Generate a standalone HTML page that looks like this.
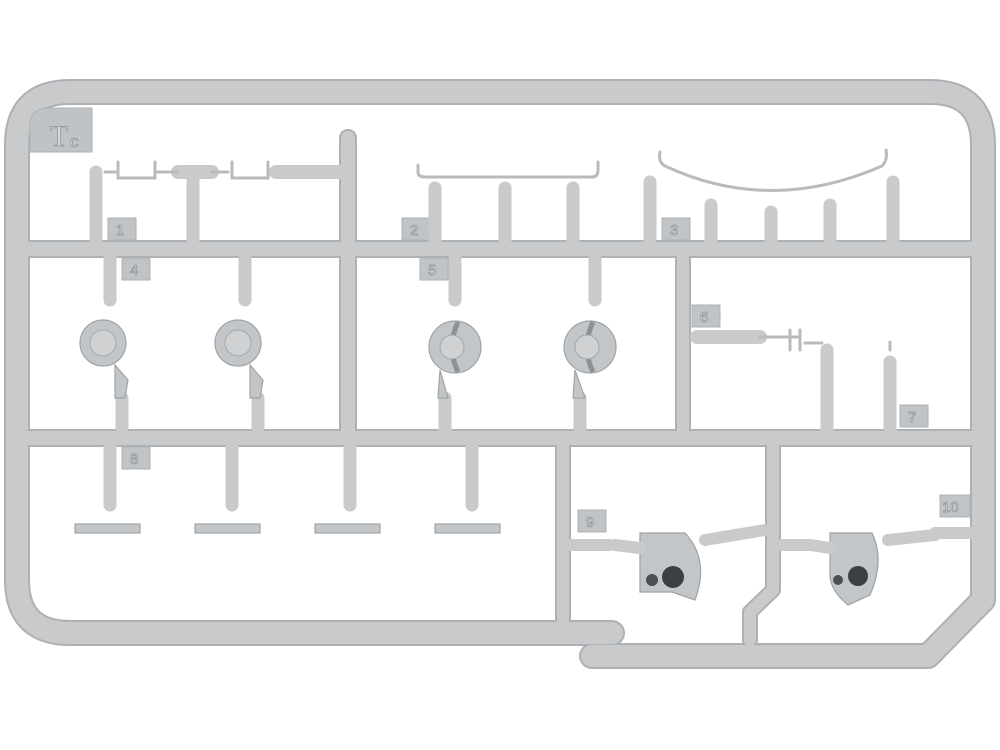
<!DOCTYPE html>
<html><head><meta charset="utf-8"><style>
html,body{margin:0;padding:0;background:#fff;width:1000px;height:750px;overflow:hidden}
svg{display:block}
.r{stroke:#c8cacc;fill:none;stroke-linecap:round;stroke-linejoin:round}
.e{stroke:#aeb1b4;fill:none;stroke-linecap:round;stroke-linejoin:round}
.t{stroke:#b8bbbe;fill:none;stroke-linecap:round}
.lab{fill:#c1c4c6;stroke:#aeb1b3;stroke-width:1}
.n{font-family:"Liberation Sans",sans-serif;font-size:15px;fill:#dadcdd;stroke:#8e9295;stroke-width:0.7}
.p{fill:#c3c6c8;stroke:#9fa3a6;stroke-width:1.2}
</style></head><body>
<svg width="1000" height="750" viewBox="0 0 1000 750">
<g class="e" stroke-width="26">
<path d="M612 633 H70 Q17 633 17 580 V145 Q17 92 70 92 H930 Q983 92 983 145 V600 L928 656 H592"/>
<line x1="30" y1="249" x2="976" y2="249" stroke-width="18"/>
<line x1="30" y1="438" x2="976" y2="438" stroke-width="18"/>
<line x1="348" y1="138" x2="348" y2="438" stroke-width="18"/>
<line x1="683" y1="255" x2="683" y2="432" stroke-width="16"/>
<line x1="563" y1="445" x2="563" y2="623" stroke-width="16"/>
<path d="M773 445 V590 L750 612 V640" stroke-width="16"/>
</g>
<g class="r" stroke-width="22">
<path d="M612 633 H70 Q17 633 17 580 V145 Q17 92 70 92 H930 Q983 92 983 145 V600 L928 656 H592"/>
<line x1="30" y1="249" x2="976" y2="249" stroke-width="14"/>
<line x1="30" y1="438" x2="976" y2="438" stroke-width="14"/>
<line x1="348" y1="138" x2="348" y2="438" stroke-width="14"/>
<line x1="683" y1="255" x2="683" y2="432" stroke-width="12"/>
<line x1="563" y1="445" x2="563" y2="623" stroke-width="12"/>
<path d="M773 445 V590 L750 612 V640" stroke-width="12"/>
</g>
<path d="M30 152 V125 Q30 108 50 108 H92 V152 Z" fill="#c0c3c5" stroke="#aeb1b3"/>
<text x="50" y="146" class="n" style="font-size:30px;font-family:'Liberation Serif',serif">T</text>
<text x="70" y="147" class="n" style="font-size:17px">c</text>
<g>
<rect x="108" y="218" width="28" height="22" class="lab"/><text x="116" y="235" class="n">1</text>
<rect x="402" y="218" width="28" height="22" class="lab"/><text x="410" y="235" class="n">2</text>
<rect x="662" y="218" width="28" height="22" class="lab"/><text x="670" y="235" class="n">3</text>
<rect x="122" y="258" width="28" height="22" class="lab"/><text x="130" y="275" class="n">4</text>
<rect x="420" y="258" width="28" height="22" class="lab"/><text x="428" y="275" class="n">5</text>
<rect x="692" y="305" width="28" height="22" class="lab"/><text x="700" y="322" class="n">6</text>
<rect x="900" y="405" width="28" height="22" class="lab"/><text x="908" y="422" class="n">7</text>
<rect x="122" y="447" width="28" height="22" class="lab"/><text x="130" y="464" class="n">8</text>
<rect x="578" y="510" width="28" height="22" class="lab"/><text x="586" y="527" class="n">9</text>
<rect x="940" y="495" width="30" height="22" class="lab"/><text x="942" y="512" class="n">10</text>
</g>
<g class="r" stroke-width="13">
<line x1="96" y1="172" x2="96" y2="240"/>
<line x1="193" y1="175" x2="193" y2="240"/>
<line x1="435" y1="188" x2="435" y2="240"/>
<line x1="505" y1="188" x2="505" y2="240"/>
<line x1="573" y1="188" x2="573" y2="240"/>
<line x1="650" y1="182" x2="650" y2="240"/>
<line x1="711" y1="205" x2="711" y2="240"/>
<line x1="771" y1="212" x2="771" y2="240"/>
<line x1="830" y1="205" x2="830" y2="240"/>
<line x1="893" y1="182" x2="893" y2="240"/>
<line x1="110" y1="258" x2="110" y2="300"/><line x1="245" y1="258" x2="245" y2="300"/>
<line x1="455" y1="258" x2="455" y2="300"/><line x1="595" y1="258" x2="595" y2="300"/>
<line x1="122" y1="398" x2="122" y2="430"/><line x1="258" y1="398" x2="258" y2="430"/>
<line x1="445" y1="398" x2="445" y2="430"/><line x1="580" y1="398" x2="580" y2="430"/>
<line x1="827" y1="350" x2="827" y2="430"/><line x1="890" y1="362" x2="890" y2="430"/>
<line x1="110" y1="447" x2="110" y2="505"/><line x1="232" y1="447" x2="232" y2="505"/>
<line x1="350" y1="447" x2="350" y2="505"/><line x1="472" y1="447" x2="472" y2="505"/>
<line x1="570" y1="545" x2="610" y2="545" stroke-width="12"/>
<line x1="780" y1="545" x2="810" y2="545" stroke-width="12"/>
<line x1="935" y1="533" x2="975" y2="533" stroke-width="12"/>
<line x1="697" y1="337" x2="760" y2="337" stroke-width="14"/>
<line x1="276" y1="172" x2="340" y2="172" stroke-width="14"/>
<line x1="178" y1="172" x2="212" y2="172" stroke-width="14"/>
</g>
<g class="t" stroke-width="3">
<path d="M105 172 H115 M118 162 V178 H155 V162 M158 172 H178"/>
<path d="M212 172 H228 M232 162 V178 H268 V162"/>
<path d="M418 165 V172 Q418 177 425 177 H592 Q598 177 598 170 V162"/>
<path d="M660 152 Q658 162 665 166 Q770 215 882 166 Q888 160 886 150"/>
<path d="M760 337 H800 M790 330 V350 M800 330 V350 M805 343 H822"/>
<path d="M890 350 V342"/>
</g>
<g>
<circle cx="103" cy="343" r="23" class="p"/><circle cx="103" cy="343" r="13" fill="#cfd1d3" stroke="#a5a8ab"/>
<circle cx="238" cy="343" r="23" class="p"/><circle cx="238" cy="343" r="13" fill="#cfd1d3" stroke="#a5a8ab"/>
<circle cx="455" cy="347" r="26" class="p"/><path d="M458 322 q-12 25 0 50" stroke="#8d9194" stroke-width="5" fill="none"/><circle cx="452" cy="347" r="12" fill="#cfd1d3" stroke="#a5a8ab"/>
<circle cx="590" cy="347" r="26" class="p"/><path d="M593 322 q-12 25 0 50" stroke="#8d9194" stroke-width="5" fill="none"/><circle cx="587" cy="347" r="12" fill="#cfd1d3" stroke="#a5a8ab"/>
<path d="M115 365 L128 380 L125 398 L115 398Z M250 365 L263 380 L260 398 L250 398Z M440 370 L448 398 L438 398Z M575 370 L585 398 L573 398Z" class="p"/>
</g>
<g class="p">
<rect x="75" y="524" width="65" height="9"/><rect x="195" y="524" width="65" height="9"/>
<rect x="315" y="524" width="65" height="9"/><rect x="435" y="524" width="65" height="9"/>
</g>
<g>
<path d="M640 533 H685 Q710 560 695 600 L672 592 H640Z" class="p"/>
<circle cx="673" cy="577" r="11" fill="#3a3f43"/><circle cx="652" cy="580" r="6" fill="#4a4f53"/>
<path d="M830 533 H872 Q885 560 870 595 L848 605 Q830 590 830 575Z" class="p"/>
<circle cx="858" cy="576" r="10" fill="#3a3f43"/><circle cx="838" cy="580" r="5" fill="#4a4f53"/>
<g class="r" stroke-width="12"><line x1="705" y1="540" x2="765" y2="530"/><line x1="888" y1="540" x2="935" y2="535"/><line x1="615" y1="545" x2="640" y2="548"/><line x1="810" y1="545" x2="830" y2="548"/></g>
</g>
</svg>
</body></html>
